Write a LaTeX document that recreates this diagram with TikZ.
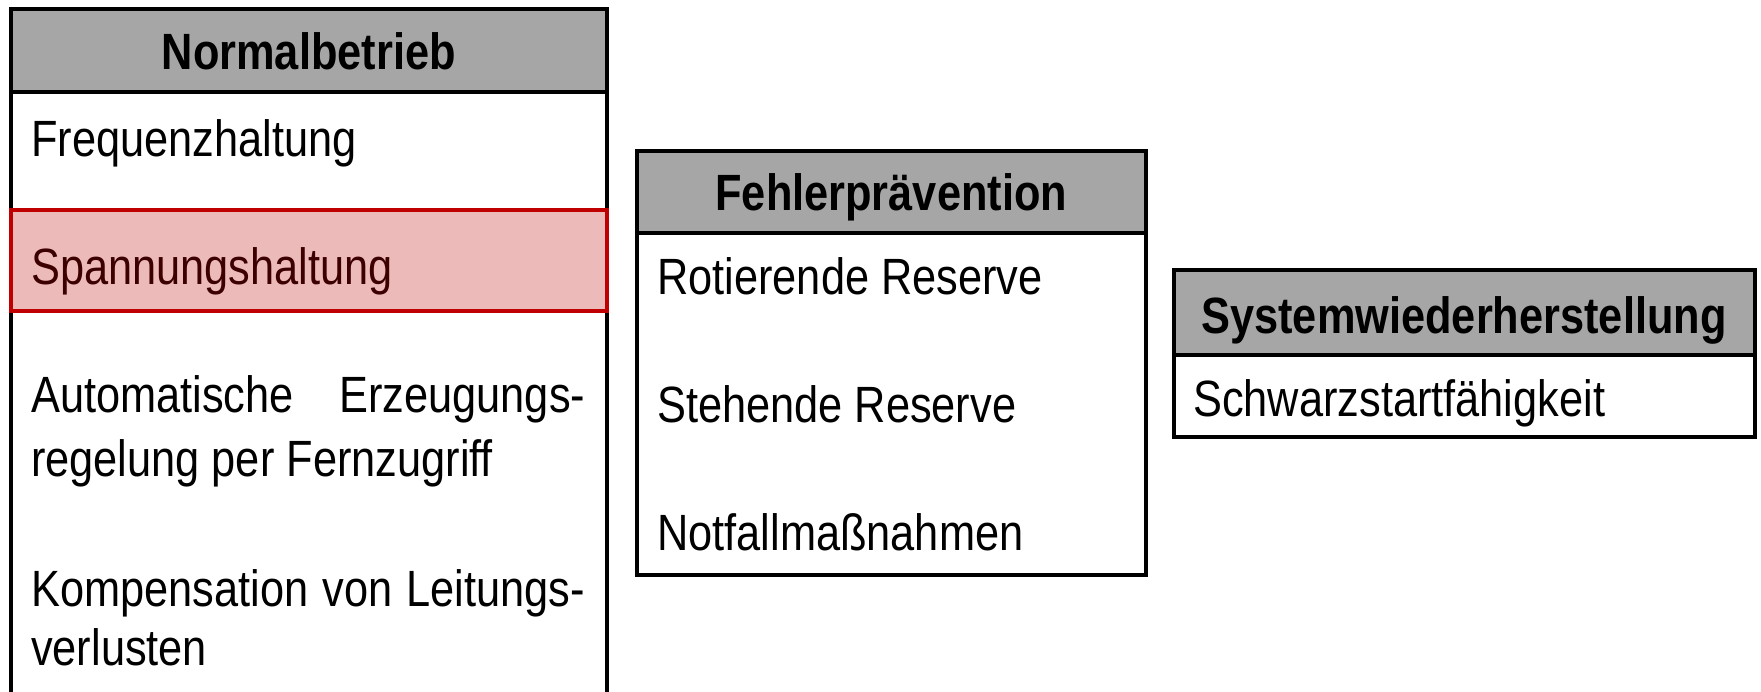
\documentclass[tikz,border=0pt]{standalone}
\usepackage{fontspec}
\setmainfont{Liberation Sans}[FakeStretch=0.85]
\definecolor{hdr}{HTML}{A6A6A6}
\definecolor{redfill}{HTML}{EDBABA}
\definecolor{redline}{HTML}{C00000}
\definecolor{redtext}{HTML}{3C0000}
\begin{document}
\begin{tikzpicture}[x=1pt,y=-1pt,
  frame/.style={draw=black,line width=4pt},
  hdrbox/.style={frame,fill=hdr},
  bodybox/.style={frame,fill=white},
  hlbox/.style={draw=redline,fill=redfill,line width=4pt},
  title/.style={font=\fontsize{51}{60}\selectfont\bfseries,inner sep=0pt,anchor=base},
  item/.style={font=\fontsize{51}{60}\selectfont,inner sep=0pt,anchor=base west}]
\useasboundingbox (0,0) rectangle (1761,691);
\clip (0,0) rectangle (1761,691);
% Box 1: Normalbetrieb
\draw[bodybox] (11,92) rectangle (606.5,740);
\draw[hdrbox] (11,9) rectangle (606.5,92);
\draw[hlbox] (11,210) rectangle (606.5,311);
\node[title] (t1) at (308.75,69) {Normalbetrieb};
\node[item] (a1) at (31,156) {Frequenzhaltung};
\node[item,text=redtext] (a2) at (31,284) {Spannungshaltung};
\node[item] (a3) at (31,412) {\makebox[554pt][s]{Automatische Erzeugungs-}};
\node[item] (a4) at (31,476) {regelung per Fernzugriff};
\node[item] (a5) at (31,606) {\makebox[554pt][s]{Kompensation von Leitungs-}};
\node[item] (a6) at (31,665) {verlusten};
% Box 2: Fehlerpraevention
\draw[bodybox] (637,232.5) rectangle (1145.5,575);
\draw[hdrbox] (637,150.5) rectangle (1145.5,232.5);
\node[title] (t2) at (891.25,210) {Fehlerprävention};
\node[item] (b1) at (657,294) {Rotierende Reserve};
\node[item] (b2) at (657,422) {Stehende Reserve};
\node[item] (b3) at (657,550) {Notfallmaßnahmen};
% Box 3: Systemwiederherstellung
\draw[bodybox] (1173.5,355) rectangle (1754.5,437);
\draw[hdrbox] (1173.5,269.5) rectangle (1754.5,355);
\node[title] (t3) at (1464,333) {Systemwiederherstellung};
\node[item] (c1) at (1193,416) {Schwarzstartfähigkeit};
\end{tikzpicture}
\end{document}
